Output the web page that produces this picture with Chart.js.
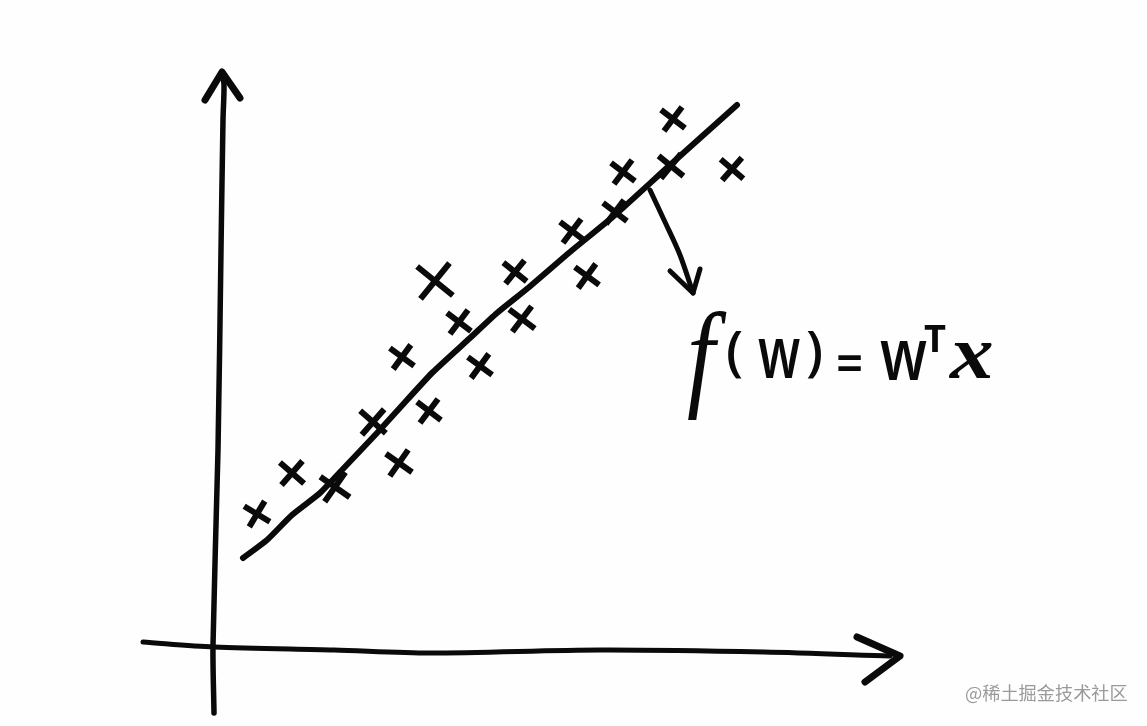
<!DOCTYPE html>
<html>
<head>
<meta charset="utf-8">
<script src="https://cdn.jsdelivr.net/npm/chart.js@4"></script>
<style>
html, body { margin: 0; padding: 0; background: #fefefe; }
canvas { display: block; }
</style>
</head>
<body>
<canvas id="c" width="1147" height="726"></canvas>
<script>
// values are measured from the hand drawn origin, where the two axes cross
var pointX = [43, 78, 121, 159, 185, 215, 188, 245, 266, 221, 308, 301, 373, 358, 401, 409, 457, 459, 518];
var pointY = [131, 172, 158, 223, 182, 234, 288, 323, 279, 364, 326, 373, 369, 414, 433, 473, 479, 526, 476];
var pointSize = [15, 16, 18, 17, 16, 15, 15, 15, 15, 23, 16, 15, 15, 15, 15, 15, 16, 15, 15];
var pointTilt = [-14, -4, -10, -4, -10, -8, -9, -8, -9, -6, -8, -6, -9, -8, -8, -8, -6, -8, -4];

var fitX = [29, 53, 78, 106, 128, 163, 193, 219, 256, 283, 314, 356, 401, 456, 523];
var fitY = [87, 105, 130, 152, 175, 212, 245, 273, 307, 332, 357, 393, 430, 480, 540];

var yAxisX = [0, -1, 4, 7, 9, 10, 8];
var yAxisY = [-68, 0, 195, 395, 525, 560, 573];
var yHeadX = [-9, 8, 26];
var yHeadY = [545, 573, 547];

var xAxisX = [-71, 0, 120, 216, 386, 550, 676];
var xAxisY = [3, -2, -5, -8, -5, -7, -11];
var xHeadX = [643, 686, 651];
var xHeadY = [8, -11, -37];

var noteX = [436, 451, 466, 479];
var noteY = [455, 423, 390, 352];
var noteHeadX = [456, 479, 486];
var noteHeadY = [374, 352, 376];

var ink = '#0a0a0a';

function stroke(xs, ys, width, tension) {
  return {
    type: 'line',
    data: xs.map(function (x, i) { return { x: x, y: ys[i] }; }),
    borderColor: ink,
    borderWidth: width,
    borderCapStyle: 'round',
    borderJoinStyle: 'round',
    tension: tension,
    pointRadius: 0,
    fill: false
  };
}

// formula pieces, placed in the same units as the data
var formula = [
  { text: 'f', x: 473, y: 250, sx: 0.85, font: 'italic 400 118px "Liberation Serif"' },
  { text: '(', x: 512, y: 275, sx: 1, font: '600 54px "Open Sans"' },
  { text: 'w', x: 544, y: 267, sx: 0.72, font: '600 72px "Open Sans"' },
  { text: ')', x: 592, y: 275, sx: 1, font: '600 54px "Open Sans"' },
  { text: '=', x: 622, y: 262, sx: 0.85, font: '600 56px "Open Sans"' },
  { text: 'w', x: 666, y: 265, sx: 0.8, font: '600 72px "Open Sans"' },
  { text: 'T', x: 710, y: 293, sx: 1, font: '700 38px "Open Sans"' },
  { text: 'x', x: 736, y: 267, sx: 1.15, font: 'italic 700 76px "Liberation Serif"' }
];
var watermark = '@稀土掘金技术社区';

var handText = {
  id: 'handText',
  afterDatasetsDraw: function (chart) {
    var c = chart.ctx, sx = chart.scales.x, sy = chart.scales.y;
    c.save();
    c.fillStyle = ink;
    c.textBaseline = 'alphabetic';
    formula.forEach(function (p) {
      c.save();
      c.translate(sx.getPixelForValue(p.x), sy.getPixelForValue(p.y));
      c.scale(p.sx, 1);
      c.font = p.font;
      c.fillText(p.text, 0, 0);
      c.restore();
    });
    c.font = '18.2px "Noto Sans CJK SC"';
    c.fillStyle = '#9a9a9a';
    c.fillText(watermark, sx.getPixelForValue(751), sy.getPixelForValue(-55));
    c.restore();
  }
};

new Chart(document.getElementById('c'), {
  type: 'scatter',
  data: {
    datasets: [
      stroke(yAxisX, yAxisY, 5.5, 0.3),
      stroke(yHeadX, yHeadY, 7, 0),
      stroke(xAxisX, xAxisY, 5, 0.3),
      stroke(xHeadX, xHeadY, 7, 0),
      stroke(fitX, fitY, 6, 0.2),
      stroke(noteX, noteY, 5, 0.3),
      stroke(noteHeadX, noteHeadY, 5, 0),
      {
        data: pointX.map(function (x, i) { return { x: x, y: pointY[i] }; }),
        pointStyle: 'crossRot',
        pointRadius: pointSize,
        pointRotation: pointTilt,
        pointBorderColor: ink,
        pointBorderWidth: 6,
        showLine: false
      }
    ]
  },
  options: {
    responsive: false,
    animation: false,
    layout: { padding: 0, autoPadding: false },
    plugins: { legend: { display: false }, tooltip: { enabled: false } },
    scales: {
      x: { type: 'linear', display: false, min: -214, max: 933 },
      y: { type: 'linear', display: false, min: -81, max: 645 }
    }
  },
  plugins: [handText]
});
</script>
</body>
</html>
